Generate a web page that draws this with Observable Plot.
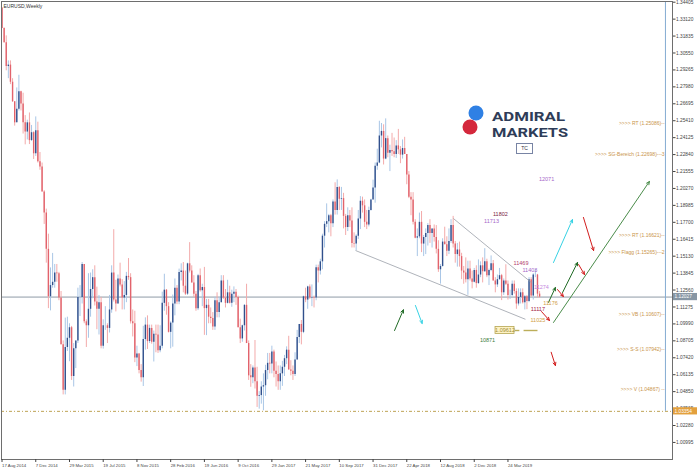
<!DOCTYPE html>
<html><head><meta charset="utf-8">
<script src="https://cdn.jsdelivr.net/npm/d3@7"></script>
<script src="https://cdn.jsdelivr.net/npm/@observablehq/plot@0.6"></script>
<style>
body{margin:0;background:#fff;}
#wrap{position:relative;width:700px;height:471px;}
</style></head><body><div id="wrap"></div>
<script>
// ---- DATA: EURUSD weekly candles, first week starts 2014-08-17 ----
const firstWeek = "2014-08-17";
const firstOpen = 1.3397;
const closes = [
// 2014
1.3240,1.3132,1.2952,1.2963,1.2833,1.2685,1.2525,1.2628,1.2760,1.2668,1.2525,1.2455,1.2525,1.2390,1.2450,1.2290,1.2465,1.2230,1.2190,1.2000,
// 2015
1.1840,1.1565,1.1205,1.1290,1.1315,1.1385,1.1380,1.1195,1.0840,1.0495,1.0820,1.0890,1.0970,1.0600,1.0810,1.0870,1.1200,1.1200,1.1450,1.1015,1.0985,1.1110,1.1260,1.1350,1.1165,1.1110,1.1160,1.0830,1.0985,1.0985,1.0965,1.1105,1.1385,1.1180,1.1150,1.1340,1.1295,1.1195,1.1215,1.1360,1.1350,1.1015,1.1000,1.0740,1.0770,1.0645,1.0590,1.0880,1.0990,1.0865,1.0965,1.0860,
// 2016
1.0920,1.0915,1.0795,1.0830,1.1155,1.1255,1.1130,1.0935,1.1005,1.1150,1.1270,1.1165,1.1390,1.1400,1.1285,1.1225,1.1455,1.1400,1.1310,1.1225,1.1115,1.1365,1.1250,1.1275,1.1115,1.1140,1.1050,1.1040,1.0975,1.1175,1.1085,1.1160,1.1325,1.1195,1.1155,1.1235,1.1155,1.1225,1.1240,1.1200,1.0970,1.0885,1.0985,1.1140,1.0850,1.0605,1.0590,1.0665,1.0560,1.0450,1.0455,1.0520,
// 2017
1.0530,1.0645,1.0700,1.0695,1.0785,1.0640,1.0615,1.0560,1.0620,1.0670,1.0735,1.0800,1.0650,1.0640,1.0615,1.0725,1.0895,1.0995,1.0935,1.1205,1.1180,1.1280,1.1195,1.1200,1.1195,1.1425,1.1400,1.1470,1.1665,1.1755,1.1775,1.1820,1.1760,1.1925,1.1860,1.2035,1.1945,1.1950,1.1815,1.1730,1.1820,1.1780,1.1610,1.1605,1.1665,1.1795,1.1930,1.1895,1.1770,1.1750,1.1860,1.1940,1.2030,
// 2018
1.2195,1.2220,1.2425,1.2460,1.2250,1.2405,1.2295,1.2315,1.2305,1.2285,1.2350,1.2320,1.2280,1.2330,1.2285,1.2130,1.1960,1.1940,1.1770,1.1650,1.1660,1.1770,1.1605,1.1655,1.1685,1.1745,1.1685,1.1720,1.1655,1.1565,1.1410,1.1435,1.1620,1.1600,1.1550,1.1625,1.1745,1.1605,1.1525,1.1560,1.1510,1.1400,1.1385,1.1335,1.1415,1.1340,1.1315,1.1405,1.1305,1.1370,1.1440,1.1395,
// 2019
1.1470,1.1365,1.1405,1.1455,1.1325,1.1295,1.1335,1.1365,1.1235,1.1325,1.1300,1.1215,1.1215,1.1300,1.1245,1.1150,1.1200,1.1235,1.1160,1.1205,1.1170,1.1335,1.1210,1.1370,1.1370,1.1225,1.12027
];
const highs = [
1.3397,1.3246,1.3185,1.2995,1.2995,1.2860,1.2680,1.2790,1.2886,1.2765,1.2750,1.2580,1.2545,1.2600,1.2505,1.2457,1.2570,1.2530,1.2300,1.2220,
1.2010,1.1870,1.1680,1.1424,1.1534,1.1450,1.1450,1.1390,1.1245,1.0870,1.1043,1.1050,1.1000,1.0980,1.0850,1.0870,1.1270,1.1290,1.1465,1.1450,1.1030,1.1380,1.1385,1.1410,1.1440,1.1278,1.1215,1.1200,1.1030,1.1130,1.1000,1.1215,1.1440,1.1714,1.1330,1.1370,1.1460,1.1335,1.1320,1.1390,1.1495,1.1380,1.1105,1.1095,1.0830,1.0775,1.0690,1.0981,1.1045,1.1060,1.0990,1.0990,
1.0945,1.0990,1.0990,1.0985,1.1240,1.1376,1.1260,1.1160,1.1015,1.1218,1.1340,1.1290,1.1415,1.1455,1.1465,1.1400,1.1460,1.1616,1.1440,1.1365,1.1245,1.1375,1.1416,1.1300,1.1428,1.1185,1.1185,1.1120,1.1085,1.1200,1.1235,1.1200,1.1365,1.1365,1.1260,1.1330,1.1285,1.1255,1.1280,1.1260,1.1210,1.1035,1.0990,1.1145,1.1300,1.0870,1.0690,1.0680,1.0873,1.0670,1.0485,1.0560,
1.0620,1.0685,1.0775,1.0775,1.0830,1.0800,1.0710,1.0680,1.0680,1.0715,1.0760,1.0825,1.0905,1.0720,1.0680,1.0780,1.0950,1.0995,1.1025,1.1210,1.1270,1.1285,1.1295,1.1295,1.1210,1.1445,1.1445,1.1490,1.1680,1.1775,1.1910,1.1830,1.1830,1.1940,1.2070,1.2092,1.2040,1.2035,1.1990,1.1830,1.1880,1.1860,1.1880,1.1690,1.1675,1.1860,1.1965,1.1961,1.1940,1.1860,1.1885,1.1945,1.2090,
1.2220,1.2325,1.2537,1.2520,1.2510,1.2555,1.2425,1.2355,1.2445,1.2410,1.2390,1.2475,1.2345,1.2395,1.2415,1.2285,1.2155,1.1995,1.1995,1.1790,1.1720,1.1840,1.1852,1.1670,1.1720,1.1760,1.1790,1.1720,1.1750,1.1745,1.1630,1.1450,1.1645,1.1733,1.1660,1.1720,1.1790,1.1815,1.1625,1.1610,1.1620,1.1535,1.1435,1.1500,1.1475,1.1475,1.1400,1.1420,1.1440,1.1485,1.1470,1.1500,
1.1570,1.1490,1.1415,1.1515,1.1480,1.1350,1.1370,1.1420,1.1375,1.1340,1.1448,1.1325,1.1255,1.1325,1.1325,1.1265,1.1265,1.1265,1.1265,1.1215,1.1215,1.1350,1.1350,1.1380,1.1412,1.1375,1.1245
];
const lows = [
1.3240,1.3131,1.2920,1.2860,1.2815,1.2680,1.2500,1.2570,1.2615,1.2615,1.2440,1.2358,1.2395,1.2360,1.2385,1.2247,1.2270,1.2220,1.2165,1.2000,
1.1754,1.1460,1.1115,1.1098,1.1270,1.1270,1.1315,1.1175,1.0840,1.0460,1.0460,1.0790,1.0712,1.0570,1.0520,1.0660,1.0850,1.1055,1.1150,1.1000,1.0820,1.0890,1.1050,1.1190,1.1135,1.0955,1.0915,1.0810,1.0808,1.0950,1.0850,1.0930,1.1080,1.1165,1.1090,1.1150,1.1280,1.1105,1.1105,1.1160,1.1330,1.0998,1.0900,1.0705,1.0675,1.0620,1.0557,1.0524,1.0800,1.0805,1.0850,1.0845,
1.0710,1.0780,1.0775,1.0780,1.0810,1.1095,1.1065,1.0930,1.0810,1.0822,1.1060,1.1145,1.1145,1.1325,1.1235,1.1215,1.1215,1.1385,1.1310,1.1200,1.1095,1.1100,1.1240,1.1130,1.0912,1.0910,1.1000,1.1000,1.0950,1.0950,1.1045,1.1045,1.1160,1.1185,1.1120,1.1150,1.1150,1.1125,1.1160,1.1140,1.0970,1.0850,1.0860,1.0945,1.0850,1.0570,1.0518,1.0545,1.0505,1.0365,1.0352,1.0390,
1.0340,1.0450,1.0575,1.0620,1.0620,1.0590,1.0520,1.0495,1.0495,1.0525,1.0600,1.0690,1.0650,1.0605,1.0570,1.0600,1.0820,1.0850,1.0840,1.0925,1.1160,1.1110,1.1185,1.1130,1.1120,1.1175,1.1310,1.1370,1.1410,1.1575,1.1730,1.1690,1.1660,1.1730,1.1825,1.1825,1.1860,1.1860,1.1720,1.1670,1.1700,1.1730,1.1575,1.1575,1.1554,1.1640,1.1715,1.1840,1.1730,1.1715,1.1735,1.1855,1.1955,
1.1915,1.2165,1.2215,1.2335,1.2205,1.2245,1.2260,1.2155,1.2270,1.2260,1.2255,1.2285,1.2215,1.2250,1.2285,1.2055,1.1950,1.1820,1.1750,1.1645,1.1510,1.1645,1.1540,1.1510,1.1525,1.1590,1.1610,1.1575,1.1620,1.1530,1.1390,1.1301,1.1430,1.1600,1.1510,1.1525,1.1610,1.1575,1.1460,1.1430,1.1430,1.1335,1.1300,1.1310,1.1216,1.1325,1.1265,1.1310,1.1270,1.1300,1.1350,1.1310,
1.1390,1.1350,1.1290,1.1395,1.1325,1.1235,1.1275,1.1330,1.1176,1.1215,1.1290,1.1180,1.1185,1.1205,1.1225,1.1110,1.1135,1.1150,1.1150,1.1105,1.1107,1.1160,1.1200,1.1180,1.1350,1.1195,1.1193
];

// axis ticks
const xTickDates = ["2014-08-17","2014-12-07","2015-03-29","2015-07-19","2015-11-08","2016-02-28","2016-06-19","2016-10-09","2017-01-29","2017-05-21","2017-09-10","2017-12-31","2018-04-22","2018-08-12","2018-12-02","2019-03-24"];
const xTickLabels = ["17 Aug 2014","7 Dec 2014","29 Mar 2015","19 Jul 2015","8 Nov 2015","28 Feb 2016","19 Jun 2016","9 Oct 2016","29 Jan 2017","21 May 2017","10 Sep 2017","31 Dec 2017","22 Apr 2018","12 Aug 2018","2 Dec 2018","24 Mar 2019"];
const yTicks = [1.34405,1.33120,1.31835,1.30550,1.29265,1.27980,1.26695,1.25410,1.24125,1.22840,1.21555,1.20270,1.18985,1.17700,1.16415,1.15130,1.13845,1.12560,1.11275,1.09990,1.08705,1.07420,1.06135,1.04850,1.03565,1.02280,1.00995];

// horizontal levels
const supportLevel = 1.03354;
// target level notes (text, price)
const levelTexts = [">>>> RT (1.25086)--",">>>> SG-Bereich (1.22698)---3",">>>> RT (1.16621)--",">>>> Flagg (1.15265)---2",">>>> VB (1.10607)--",">>>> S-S (1.07942)--",">>>> V (1.04867) --"];
const levelPrices = [1.25086,1.22698,1.16621,1.15265,1.10607,1.07942,1.04867];
const levelWeek = 314.3;
const markerLineWeek = 314.7;

// price notes (week offset, price, text, kind)
const noteTexts  = ["11802","11713","12071","11469","11403","11274","11176","11117","11025","10871"];
const noteWeeks  = [236.4,232.2,258.3,246.2,250.4,255.9,260.2,254.2,254.2,230.3];
const notePrices = [1.1829,1.1776,1.2095,1.1458,1.1404,1.1275,1.1154,1.1108,1.1025,1.0873];
const noteKinds  = ["maroon","violet","violet","rose","violet","lilac","tan","red","tan","green"];

// trend lines (week offsets and prices)
const trendFromWeek = [214.1,167.7], trendFromPrice = [1.1799,1.1556];
const trendToWeek   = [251.1,248.3], trendToPrice   = [1.1313,1.1034];

// arrows
const arrowFromWeek  = [186.2,196.1,260.5,255.9,259.2,263.5,265.9,273.5,261.6,261.6,275.8];
const arrowToWeek    = [190.4,199.3,262.5,259.7,262.5,266.3,273.0,276.3,307.1,270.6,280.6];
const arrowFromPrice = [1.0949,1.1139,1.0784,1.1093,1.1162,1.1260,1.1237,1.1450,1.1010,1.1465,1.1807];
const arrowToPrice   = [1.1106,1.1002,1.0683,1.1025,1.1275,1.1207,1.1465,1.1374,1.2080,1.1791,1.1556];
const arrowKinds     = ["dkgreen","cyan","red","red","dkgreen","red","dkgreen","red","green","cyan","red"];

// boxed price note
const boxText = "1.09612";
const boxWeeks = [234.1,243.1], boxPrices = [1.0922,1.0976], boxMidWeek = 238.6, boxMidPrice = 1.0949;
const boxTailWeeks = [[243.1,245.4],[247.4,254.0]];

// ---- styles ----
const noteColors = {maroon:"#7d2341",violet:"#a566c9",rose:"#b2406c",lilac:"#c486e0",tan:"#d1a043",red:"#a3203f",green:"#3d7d3d"};
const arrowColors = {dkgreen:"#1f6a24",green:"#4a8c4a",cyan:"#37d2e4",red:"#d21d1d"};
const upWick="#a9c6e6", upBody="#31508c", dnWick="#f3aaaa", dnBody="#e2636c";
const FONT = "'Liberation Sans', Arial, sans-serif";

const WEEK = 7*864e5;
const t0 = Date.parse(firstWeek + "T00:00:00Z");
const wk = w => new Date(t0 + w*WEEK);

const candles = closes.map((c,i) => {
  const o = i ? closes[i-1] : firstOpen;
  return {date: wk(i), open:o, close:c, high:Math.max(highs[i],o,c), low:Math.min(lows[i],o,c), up: c >= o};
});
const xLabelOf = new Map(xTickDates.map((d,i)=>[Date.parse(d+"T00:00:00Z"), xTickLabels[i]]));
const notes = noteTexts.map((t,i)=>({x:wk(noteWeeks[i]), y:notePrices[i], text:t, fill:noteColors[noteKinds[i]]}));
const trends = trendFromWeek.map((w,i)=>({x1:wk(w), y1:trendFromPrice[i], x2:wk(trendToWeek[i]), y2:trendToPrice[i]}));
const arrows = arrowFromWeek.map((w,i)=>({x1:wk(w), y1:arrowFromPrice[i], x2:wk(arrowToWeek[i]), y2:arrowToPrice[i], stroke:arrowColors[arrowKinds[i]]}));
const levels = levelTexts.map((t,i)=>({x:wk(levelWeek), y:levelPrices[i], text:t}));
const lastClose = closes[closes.length-1];
const yTop = 1.34458, yBottom = 0.99700;

const chart = Plot.plot({
  width: 700, height: 471,
  marginLeft: 1, marginRight: 28, marginTop: 1, marginBottom: 12,
  style: {fontFamily: FONT, fontSize: "5px", background: "#fff", color: "#333"},
  x: {type: "utc", domain: [wk(-0.25), wk(318.05)]},
  y: {domain: [yBottom, yTop]},
  marks: [
    Plot.ruleY([lastClose], {stroke: "#8e9aa6", strokeWidth: 1}),
    Plot.ruleY([supportLevel], {stroke: "#bfa356", strokeWidth: 1, strokeDasharray: "3,2,1,2"}),
    Plot.ruleX([wk(markerLineWeek)], {y1: supportLevel, y2: yTop, stroke: "#84acd2", strokeWidth: 1}),
    Plot.ruleX(candles, {x: "date", y1: "low", y2: "high", stroke: d => d.up ? upWick : dnWick, strokeWidth: 1}),
    Plot.ruleX(candles, {x: "date", y1: "open", y2: "close", stroke: d => d.up ? upBody : dnBody, strokeWidth: 1.4}),
    Plot.link(trends, {x1: "x1", y1: "y1", x2: "x2", y2: "y2", stroke: "#9aa0a8", strokeWidth: 0.8}),
    Plot.arrow(arrows, {x1: "x1", y1: "y1", x2: "x2", y2: "y2", stroke: "stroke", strokeWidth: 1, headLength: 5, headAngle: 50}),
    Plot.text(notes, {x: "x", y: "y", text: "text", fill: "fill", fontSize: 5.5}),
    Plot.text(levels, {x: "x", y: "y", text: "text", textAnchor: "end", lineAnchor: "bottom", fill: "#c9944a", fontSize: 5}),
    Plot.rect([0], {x1: wk(boxWeeks[0]), x2: wk(boxWeeks[1]), y1: boxPrices[0], y2: boxPrices[1], fill: "#fff3c4", stroke: "#b5a552", strokeWidth: 0.8}),
    Plot.text([boxText], {x: wk(boxMidWeek), y: boxMidPrice, text: d => d, fill: "#9c8c3a", fontSize: 5.5}),
    Plot.link(boxTailWeeks, {x1: d => wk(d[0]), x2: d => wk(d[1]), y1: boxMidPrice, y2: boxMidPrice, stroke: "#bcae5a", strokeWidth: 1.4}),
    Plot.text(["EURUSD,Weekly"], {frameAnchor: "top-left", dx: 2, dy: 3, fill: "#333", fontSize: 5}),
    Plot.frame({stroke: "#6e6e6e", strokeWidth: 1}),
    Plot.axisY({anchor: "right", ticks: yTicks, tickFormat: d3.format(".5f"), tickSize: 2.5, tickPadding: 1, fontSize: 4.8, label: null, color: "#444"}),
    Plot.axisX({ticks: xTickDates.map(d => new Date(d + "T00:00:00Z")), tickFormat: d => xLabelOf.get(+d), tickSize: 3, tickPadding: 1, textAnchor: "start", fontSize: 4.3, label: null, color: "#444"})
  ]
});
document.getElementById("wrap").appendChild(chart);

// price tags on the right axis, positioned with the plot's own y scale
const ys = chart.scale("y");
const svg = d3.select(chart);
const tagX = 700 - 28 + 1;
[{v: lastClose, fill: "#8796a4"}, {v: supportLevel, fill: "#e3a03d"}].forEach(t => {
  const yy = ys.apply(t.v);
  svg.append("rect").attr("x", tagX).attr("y", yy - 3.6).attr("width", 24).attr("height", 7.2).attr("fill", t.fill);
  svg.append("text").attr("x", tagX + 1.5).attr("y", yy).attr("dy", "0.35em").attr("text-anchor", "start").attr("fill", "#fff")
    .attr("font-size", 4.8).attr("font-family", FONT).text(d3.format(".5f")(t.v));
});

// brand logo and TC box
const g = svg.append("g").attr("text-anchor", "start");
g.append("circle").attr("cx", 476).attr("cy", 113).attr("r", 7.5).attr("fill", "#2f80e4");
g.append("circle").attr("cx", 470).attr("cy", 127).attr("r", 7.5).attr("fill", "#d4283c");
g.append("text").attr("x", 492).attr("y", 120.5).attr("text-anchor", "start").attr("font-family", "Roboto, sans-serif").attr("font-weight", 700)
  .attr("font-size", 13.6).attr("fill", "#2e3c58").attr("textLength", 73).attr("lengthAdjust", "spacingAndGlyphs").text("ADMIRAL");
g.append("text").attr("x", 492).attr("y", 136.5).attr("text-anchor", "start").attr("font-family", "Roboto, sans-serif").attr("font-weight", 700)
  .attr("font-size", 13.6).attr("fill", "#2e3c58").attr("textLength", 76).attr("lengthAdjust", "spacingAndGlyphs").text("MARKETS");
g.append("rect").attr("x", 516.5).attr("y", 143.5).attr("width", 16).attr("height", 10).attr("fill", "#fff").attr("stroke", "#7884a4").attr("stroke-width", 1);
g.append("text").attr("x", 524.5).attr("y", 148.5).attr("dy", "0.35em").attr("text-anchor", "middle").attr("font-size", 5).attr("font-family", FONT).attr("fill", "#334").text("TC");
</script>
</body></html>
